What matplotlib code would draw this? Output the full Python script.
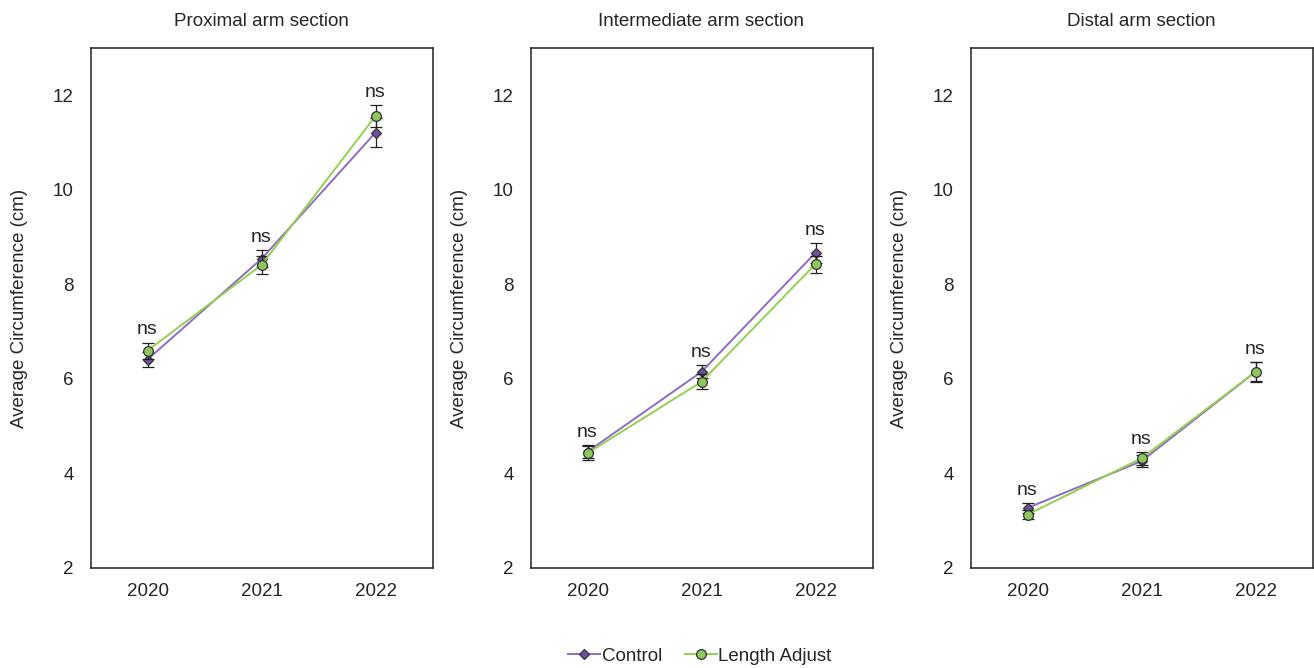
import matplotlib.pyplot as plt
from matplotlib.lines import Line2D
import numpy as np

# 年ごとの平均周囲長 (cm) と標準誤差
years = ["2020", "2021", "2022"]
titles = ["Proximal arm section", "Intermediate arm section", "Distal arm section"]

control_mean = [
    [6.41, 8.54, 11.21],
    [4.46, 6.15, 8.67],
    [3.27, 4.26, 6.15],
]
control_err = [
    [0.16, 0.18, 0.30],
    [0.14, 0.14, 0.21],
    [0.10, 0.12, 0.20],
]
adjust_mean = [
    [6.60, 8.41, 11.56],
    [4.43, 5.94, 8.43],
    [3.13, 4.32, 6.15],
]
adjust_err = [
    [0.17, 0.20, 0.24],
    [0.15, 0.16, 0.18],
    [0.10, 0.14, 0.21],
]
sig_labels = ["ns", "ns", "ns"]

plt.rcParams["font.family"] = ["Liberation Sans", "DejaVu Sans"]
plt.rcParams["font.size"] = 13.5

purple_line = "#8E6CC0"
purple_fill = "#6F4F9E"
green_line = "#92D050"
green_fill = "#8DC75E"
edge = "#333333"
text_col = "#262626"

fig = plt.figure(figsize=(13.14, 6.68), dpi=100)
lefts = [90.5, 530.5, 970.5]
W, H = 1314, 668
x = np.arange(len(years))

for i, left in enumerate(lefts):
    ax = fig.add_axes([left / W, 1 - 568 / H, 342 / W, 520 / H])
    ax.errorbar(x, control_mean[i], yerr=control_err[i], color=purple_line, lw=1.4,
                marker="D", ms=5.5, mfc=purple_fill, mec=edge, mew=0.9,
                ecolor="#222222", elinewidth=0.9, capsize=4, capthick=0.9, zorder=3)
    ax.errorbar(x, adjust_mean[i], yerr=adjust_err[i], color=green_line, lw=1.4,
                marker="o", ms=7, mfc=green_fill, mec=edge, mew=0.9,
                ecolor="#222222", elinewidth=0.9, capsize=4, capthick=0.9, zorder=4)
    for j in range(len(years)):
        top = max(control_mean[i][j] + control_err[i][j], adjust_mean[i][j] + adjust_err[i][j])
        ax.annotate(sig_labels[j], (x[j], top), xytext=(0, 3), textcoords="offset points",
                    ha="center", va="bottom", color=text_col, fontsize=14)
    ax.set_xlim(-0.5, 2.5)
    ax.set_ylim(2, 13)
    ax.set_yticks([2, 4, 6, 8, 10, 12])
    ax.set_xticks(x)
    ax.set_xticklabels(years)
    ax.tick_params(length=0, pad=11, colors=text_col, labelsize=13.5)
    ax.tick_params(axis="y", pad=12)
    for s in ax.spines.values():
        s.set_color("#222222")
        s.set_linewidth(1.1)
    ax.set_ylabel("Average Circumference (cm)", color=text_col, fontsize=13.5, labelpad=18)
    ax.set_title(titles[i], color=text_col, fontsize=13.5, pad=16)

handles = [
    Line2D([], [], color=purple_line, lw=1.4, marker="D", ms=5.5, mfc=purple_fill, mec=edge, mew=0.9),
    Line2D([], [], color=green_line, lw=1.4, marker="o", ms=7, mfc=green_fill, mec=edge, mew=0.9),
]
fig.legend(handles, ["Control", "Length Adjust"], loc="center", bbox_to_anchor=(700 / W, 1 - 656 / H),
           ncol=2, frameon=False, fontsize=13.5, handlelength=1.7, handletextpad=0.1,
           columnspacing=1.2, labelcolor=text_col)

fig.savefig("out.png", dpi=100)
